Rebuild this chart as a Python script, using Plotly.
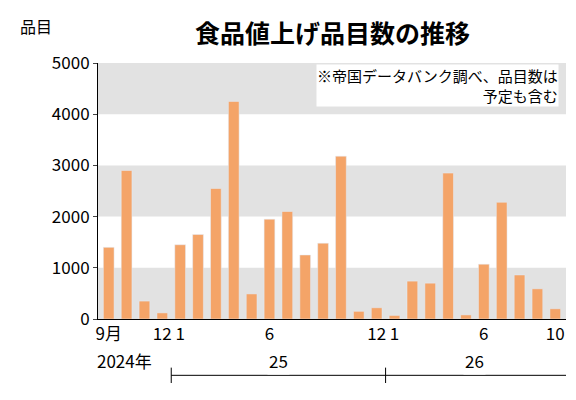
import plotly.graph_objects as go

months = list(range(26))
values = [1400, 2900, 350, 120, 1450, 1650, 2550, 4250, 490, 1950, 2100, 1250, 1480,
          3180, 150, 220, 70, 740, 700, 2850, 80, 1070, 2280, 860, 590, 200]
tick_pos = [0, 3, 4, 9, 15, 16, 21, 25]
tick_text = ["9月", "12", "1", "6", "12", "1", "6", "10"]
y_ticks = [0, 1000, 2000, 3000, 4000, 5000]

FONT = "Noto Sans CJK JP"
fig = go.Figure(go.Bar(x=months, y=values, marker_color="#F4A468", width=0.6))

# gray bands
for lo in [0, 2000, 4000]:
    fig.add_shape(type="rect", xref="paper", yref="y", x0=0, x1=1, y0=lo, y1=lo + 1000,
                  fillcolor="#E2E2E2", line_width=0, layer="below")

# year row
ann = [dict(x=0.9, y=-0.22, text="2024年"), dict(x=9.5, y=-0.22, text="25"),
       dict(x=20.5, y=-0.22, text="26")]
for a in ann:
    fig.add_annotation(xref="x", yref="paper", showarrow=False, bgcolor="white",
                       font=dict(size=17, family=FONT, color="black"), **a)
for x0, x1 in [(3.5, 15.5), (15.5, 26)]:
    fig.add_shape(type="line", xref="x", yref="paper", x0=x0, x1=x1, y0=-0.22, y1=-0.22,
                  line=dict(color="black", width=1), layer="below")
for xs in [3.5, 15.5]:
    fig.add_shape(type="line", xref="x", yref="paper", x0=xs, x1=xs, y0=-0.19, y1=-0.25,
                  line=dict(color="black", width=1))

fig.add_annotation(xref="paper", yref="paper", x=0.5, y=1.2, showarrow=False,
                   text="<b>食品値上げ品目数の推移</b>", font=dict(size=25, family=FONT, color="black"))
fig.add_annotation(xref="paper", yref="paper", x=-0.17, y=1.2, showarrow=False, xanchor="left",
                   text="品目", font=dict(size=16, family=FONT, color="black"))
fig.add_annotation(xref="paper", yref="paper", x=0.985, y=0.995, showarrow=False, xanchor="right",
                   yanchor="top", align="right", bgcolor="white", borderpad=0,
                   text="※帝国データバンク調べ、品目数は<br>予定も含む",
                   font=dict(size=15, family=FONT, color="black"))

fig.update_layout(
    width=576, height=400, margin=dict(l=90, r=18, t=55, b=89),
    plot_bgcolor="white", paper_bgcolor="white", showlegend=False,
    font=dict(family=FONT, size=17, color="black"),
    xaxis=dict(tickvals=tick_pos, ticktext=tick_text, range=[-0.6, 25.6], showline=True,
               linecolor="black", ticks="", tickfont=dict(size=17)),
    yaxis=dict(range=[0, 5000], tickvals=y_ticks, showgrid=False, zeroline=False,
               showline=True, linecolor="black", ticks="outside", ticklen=4,
               tickfont=dict(size=17)),
)
fig.write_html("out.html")
